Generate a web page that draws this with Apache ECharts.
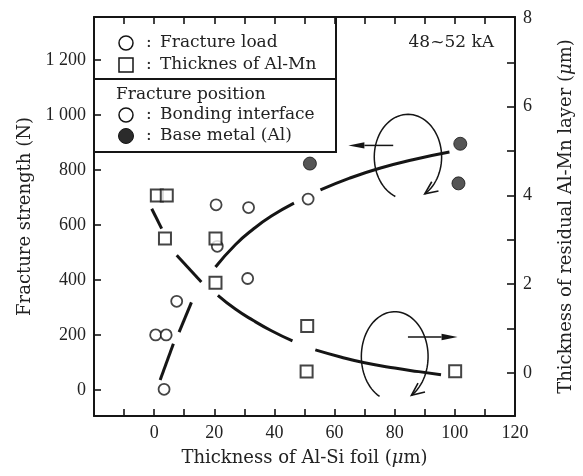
<!DOCTYPE html>
<html>
<head>
<meta charset="utf-8">
<script src="https://cdn.jsdelivr.net/npm/echarts@6/dist/echarts.min.js"></script>
<style>
html,body{margin:0;padding:0;background:#fff;}
#chart{width:583px;height:476px;}
</style>
</head>
<body>
<div id="chart"></div>
<script>
// ---- Data ----
// Fracture load, fracture at bonding interface (open circles, left axis)
const bondingFoil = [0.5, 4.0, 7.5, 3.3, 20.6, 21.0, 31.4, 31.1, 51.2];
const bondingLoad = [200, 200, 322, 2, 673, 522, 663, 405, 694];
// Fracture load, fracture in base metal Al (filled circles, left axis)
const baseFoil = [51.8, 101.8, 101.2];
const baseLoad = [823, 895, 751];
// Thickness of residual Al-Mn layer (squares, right axis)
const thickFoil = [0.9, 4.2, 3.6, 20.4, 20.4, 50.9, 50.7, 100.1];
const thickValue = [4.0, 4.0, 3.03, 3.03, 2.03, 1.06, 0.03, 0.04];
// Trend curve of fracture load (drawn in broken pieces)
const loadCurveFoil = [[2.0, 6.4], [8.3, 12.4], [20.4, 27, 33, 39, 46.5], [55.3, 65, 75, 86, 98.2]];
const loadCurveLoad = [[36, 168], [210, 318], [447, 528, 585, 632, 679], [727, 770, 806, 837, 865]];
// Trend curve of residual layer thickness
const thickCurveFoil = [[-0.8, 2.5], [7.5, 15.7], [21.2, 27, 33, 39, 46], [53.6, 62, 70, 80, 88, 95.4]];
const thickCurveValue = [[3.70, 3.25], [2.65, 2.05], [1.75, 1.44, 1.18, 0.95, 0.72], [0.52, 0.36, 0.23, 0.11, 0.03, -0.04]];
// Tick labels
const xTickLabels = [0, 20, 40, 60, 80, 100, 120];
const xTicks = [-10, 0, 10, 20, 30, 40, 50, 60, 70, 80, 90, 100, 110];
const leftTickLabels = [0, 200, 400, 600, 800, 1000, 1200];
const rightTickLabels = [0, 2, 4, 6, 8];
const rightTicks = [0, 1, 2, 3, 4, 5, 6, 7];

// ---- Annotations (circular arrows + horizontal arrows, in data units) ----
const upperAnnot = {cx: 84.4, cy: 847, rx: 11.2, ry: 155, startDeg: 112, endDeg: 420, arrowFrom: [79.5, 889], arrowTo: [64.6, 889]};
const lowerAnnot = {cx: 80.0, cy: 0.37, rx: 11.1, ry: 1.01, startDeg: 117, endDeg: 420, arrowFrom: [84.4, 0.81], arrowTo: [100.9, 0.81]};

const INK = '#151515';
const TXT = 'DejaVu Serif';
const NUM = 'Liberation Serif';

function zip(a, b) { return a.map((v, i) => [v, b[i]]); }

function makeAnnotRenderer(a) {
  return function (params, api) {
    const c = api.coord([a.cx, a.cy]);
    const s = api.size([a.rx, a.ry]);
    const rx = s[0], ry = s[1];
    const t0 = a.startDeg * Math.PI / 180, t1 = a.endDeg * Math.PI / 180;
    const pts = [];
    for (let i = 0; i <= 72; i++) {
      const t = t0 + (t1 - t0) * i / 72;
      pts.push([c[0] + rx * Math.cos(t), c[1] + ry * Math.sin(t)]);
    }
    const tip = pts[pts.length - 1];
    const dx = -rx * Math.sin(t1), dy = ry * Math.cos(t1);
    const L = Math.hypot(dx, dy), ux = dx / L, uy = dy / L;
    const head = 14, ang = 24 * Math.PI / 180;
    const w = (g) => [tip[0] - head * (ux * Math.cos(g) - uy * Math.sin(g)),
                      tip[1] - head * (uy * Math.cos(g) + ux * Math.sin(g))];
    const p0 = api.coord(a.arrowFrom), p1 = api.coord(a.arrowTo);
    const ax = p1[0] - p0[0], ay = p1[1] - p0[1], al = Math.hypot(ax, ay);
    const vx = ax / al, vy = ay / al, hl = 16, hw = 3.2;
    const base = [p1[0] - vx * hl, p1[1] - vy * hl];
    return {
      type: 'group',
      children: [
        {type: 'polyline', shape: {points: pts}, style: {stroke: INK, lineWidth: 1.5, fill: null}},
        {type: 'polyline', shape: {points: [w(ang), tip, w(-ang)]}, style: {stroke: INK, lineWidth: 1.6, fill: null}},
        {type: 'line', shape: {x1: p0[0], y1: p0[1], x2: base[0], y2: base[1]}, style: {stroke: INK, lineWidth: 1.5}},
        {type: 'polygon', shape: {points: [p1, [base[0] - vy * hw, base[1] + vx * hw], [base[0] + vy * hw, base[1] - vx * hw]]}, style: {fill: INK}}
      ]
    };
  };
}

const series = [];
loadCurveFoil.forEach((xs, k) => {
  series.push({type: 'line', yAxisIndex: 0, data: zip(xs, loadCurveLoad[k]), smooth: 0.5,
    symbol: 'none', lineStyle: {color: INK, width: 3}, silent: true, z: 3});
});
thickCurveFoil.forEach((xs, k) => {
  series.push({type: 'line', yAxisIndex: 1, data: zip(xs, thickCurveValue[k]), smooth: 0.5,
    symbol: 'none', lineStyle: {color: INK, width: 3}, silent: true, z: 3});
});
series.push({type: 'scatter', name: 'Bonding interface', yAxisIndex: 0, data: zip(bondingFoil, bondingLoad),
  symbol: 'circle', symbolSize: 11, itemStyle: {color: '#fff', borderColor: INK, borderWidth: 1.8}, z: 5});
series.push({type: 'scatter', name: 'Thicknes of Al-Mn', yAxisIndex: 1, data: zip(thickFoil, thickValue),
  symbol: 'rect', symbolSize: 12, itemStyle: {color: '#fff', borderColor: INK, borderWidth: 2}, z: 6});
series.push({type: 'scatter', name: 'Base metal (Al)', yAxisIndex: 0, data: zip(baseFoil, baseLoad),
  symbol: 'circle', symbolSize: 13, itemStyle: {color: '#2b2b2b', borderColor: INK, borderWidth: 1}, z: 5});
series.push({type: 'custom', yAxisIndex: 0, data: [[upperAnnot.cx, upperAnnot.cy]], renderItem: makeAnnotRenderer(upperAnnot), silent: true, z: 4});
series.push({type: 'custom', yAxisIndex: 1, data: [[lowerAnnot.cx, lowerAnnot.cy]], renderItem: makeAnnotRenderer(lowerAnnot), silent: true, z: 4});

const axisLine = {show: true, onZero: false, lineStyle: {color: INK, width: 2}};
const tickStyle = {color: INK, width: 1.6};
const numLabel = {fontFamily: NUM, fontSize: 18, color: '#222'};
const nameStyle = {fontFamily: TXT, fontSize: 18, color: '#222', rich: {i: {fontFamily: TXT, fontSize: 18, fontStyle: 'italic', color: '#222'}}};

const option = {
  backgroundColor: '#ffffff',
  animation: false,
  grid: {left: 94, right: 64, top: 17, bottom: 60},
  xAxis: [
    {type: 'value', position: 'bottom', min: -20, max: 120,
      axisLine: axisLine,
      axisTick: {show: true, inside: true, length: 7, lineStyle: tickStyle, customValues: xTicks},
      axisLabel: Object.assign({margin: 8, customValues: xTickLabels}, numLabel),
      splitLine: {show: false},
      name: 'Thickness of Al-Si foil ({i|μ}m)', nameLocation: 'middle', nameGap: 33, nameTextStyle: nameStyle},
    {type: 'value', position: 'top', min: -20, max: 120,
      axisLine: axisLine,
      axisTick: {show: true, inside: true, length: 7, lineStyle: tickStyle, customValues: xTicks},
      axisLabel: {show: false}, splitLine: {show: false}}
  ],
  yAxis: [
    {type: 'value', position: 'left', min: -95, max: 1356,
      axisLine: axisLine,
      axisTick: {show: true, inside: true, length: 7, lineStyle: tickStyle, customValues: leftTickLabels},
      axisLabel: Object.assign({margin: 8, customValues: leftTickLabels,
        formatter: v => v >= 1000 ? Math.floor(v / 1000) + ' ' + String(v % 1000).padStart(3, '0') : String(v)}, numLabel),
      splitLine: {show: false},
      name: 'Fracture strength (N)', nameLocation: 'middle', nameRotate: 90, nameGap: 57, nameTextStyle: nameStyle},
    {type: 'value', position: 'right', min: -0.97, max: 8.02,
      axisLine: axisLine,
      axisTick: {show: true, inside: true, length: 8, lineStyle: tickStyle, customValues: rightTicks},
      axisLabel: Object.assign({margin: 8, customValues: rightTickLabels}, numLabel),
      splitLine: {show: false},
      name: 'Thickness of residual Al-Mn layer ({i|μ}m)', nameLocation: 'middle', nameRotate: 90, nameGap: 42, nameTextStyle: nameStyle}
  ],
  graphic: [
    // legend box
    {type: 'polyline', z: 10, shape: {points: [[94, 17], [336, 17], [336, 152], [94, 152]]}, style: {stroke: INK, lineWidth: 2, fill: null}},
    {type: 'line', z: 10, shape: {x1: 94, y1: 79, x2: 336, y2: 79}, style: {stroke: INK, lineWidth: 2}},
    {type: 'circle', z: 10, shape: {cx: 126, cy: 43, r: 7}, style: {fill: '#fff', stroke: INK, lineWidth: 1.5}},
    {type: 'rect', z: 10, shape: {x: 119, y: 58, width: 14, height: 14}, style: {fill: '#fff', stroke: INK, lineWidth: 1.5}},
    {type: 'circle', z: 10, shape: {cx: 126, cy: 115, r: 7}, style: {fill: '#fff', stroke: INK, lineWidth: 1.5}},
    {type: 'circle', z: 10, shape: {cx: 126, cy: 136, r: 7.5}, style: {fill: '#2b2b2b', stroke: INK, lineWidth: 1}},
    {type: 'text', z: 10, x: 146, y: 43, style: {text: ':', font: '17px "DejaVu Serif"', fill: '#222', verticalAlign: 'middle'}},
    {type: 'text', z: 10, x: 146, y: 65, style: {text: ':', font: '17px "DejaVu Serif"', fill: '#222', verticalAlign: 'middle'}},
    {type: 'text', z: 10, x: 146, y: 115, style: {text: ':', font: '17px "DejaVu Serif"', fill: '#222', verticalAlign: 'middle'}},
    {type: 'text', z: 10, x: 146, y: 136, style: {text: ':', font: '17px "DejaVu Serif"', fill: '#222', verticalAlign: 'middle'}},
    {type: 'text', z: 10, x: 160, y: 43, style: {text: 'Fracture load', font: '17px "DejaVu Serif"', fill: '#222', verticalAlign: 'middle'}},
    {type: 'text', z: 10, x: 160, y: 65, style: {text: 'Thicknes of Al-Mn', font: '17px "DejaVu Serif"', fill: '#222', verticalAlign: 'middle'}},
    {type: 'text', z: 10, x: 116, y: 95, style: {text: 'Fracture position', font: '17px "DejaVu Serif"', fill: '#222', verticalAlign: 'middle'}},
    {type: 'text', z: 10, x: 160, y: 115, style: {text: 'Bonding interface', font: '17px "DejaVu Serif"', fill: '#222', verticalAlign: 'middle'}},
    {type: 'text', z: 10, x: 160, y: 136, style: {text: 'Base metal (Al)', font: '17px "DejaVu Serif"', fill: '#222', verticalAlign: 'middle'}},
    // current range note
    {type: 'text', z: 10, x: 494, y: 43, style: {text: '48~52 kA', font: '17px "DejaVu Serif"', fill: '#222', align: 'right', verticalAlign: 'middle'}}
  ],
  series: series
};

const chart = echarts.init(document.getElementById('chart'), null, {renderer: 'canvas'});
chart.setOption(option);
</script>
</body>
</html>
